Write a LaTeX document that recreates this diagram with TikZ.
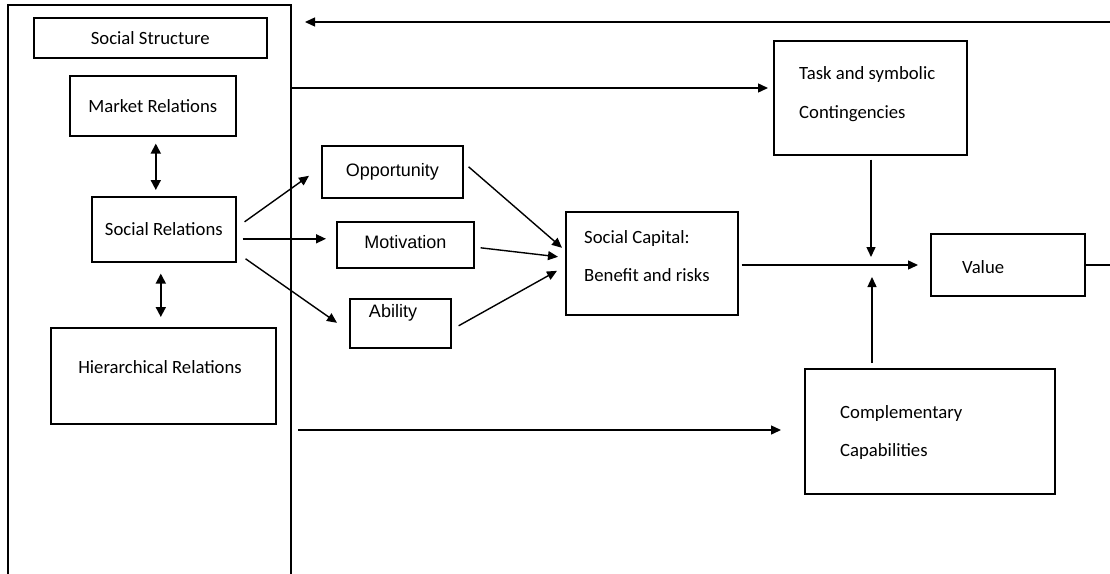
\documentclass[tikz,border=0pt]{standalone}
\usepackage{fontspec}
\setmainfont{Carlito}
\newfontfamily\arialfont{Liberation Sans}
\usetikzlibrary{arrows.meta,calc}

\tikzset{
  box/.style={draw=black, line width=1.6pt, rectangle, inner sep=0pt, anchor=north west,
              font=\fontsize{18.7}{22}\selectfont},
  boxa/.style={box, font=\arialfont\fontsize{18}{22}\selectfont},
  txt/.style={inner sep=0pt, anchor=base west, font=\fontsize{18.7}{22}\selectfont},
  txta/.style={txt, font=\arialfont\fontsize{18}{22}\selectfont},
  arr/.style={draw=black, line width=1.4pt, -{Triangle[length=10pt,width=9pt]}},
  dbl/.style={draw=black, line width=1.8pt, {Triangle[length=10pt,width=10pt]}-{Triangle[length=10pt,width=10pt]}},
  edge/.style={draw=black, line width=1.8pt}
}

\begin{document}
\begin{tikzpicture}[x=1pt, y=-1pt]
\useasboundingbox (0,0) rectangle (1110,573);
\clip (0,0) rectangle (1110,573);
\fill[white] (0,0) rectangle (1110,573);

% social structure frame (runs past the bottom edge)
\draw[edge] (8,590) |- (291,5) -- (291,590);

% boxes inside the frame
\node[box, minimum width=233pt, minimum height=40pt] (ss) at (33,17) {Social Structure};
\node[box, minimum width=166pt, minimum height=60pt] (mkt) at (69,75) {Market Relations};
\node[box, minimum width=144pt, minimum height=65pt] (soc) at (91,196) {Social Relations};
\node[box, minimum width=225pt, minimum height=96pt] (hier) at (50,327) {};
\node[txt, anchor=center] (hiert) at (160,367) {Hierarchical Relations};

% the three mechanisms
\node[boxa, minimum width=141pt, minimum height=52pt] (opp) at (321,145) {Opportunity};
\node[boxa, minimum width=137pt, minimum height=46pt, text depth=6pt] (mot) at (336,221) {Motivation};
\node[box, minimum width=101pt, minimum height=49pt] (abl) at (349,298) {};
\node[txta, anchor=center] (ablt) at (393,313) {Ability};

% social capital
\node[box, minimum width=172pt, minimum height=103pt] (sc) at (565,211) {};
\node[txt] (sc1) at (584,243) {Social Capital:};
\node[txt] (sc2) at (584,281) {Benefit and risks};

% contingencies
\node[box, minimum width=193pt, minimum height=114pt] (task) at (773,40) {};
\node[txt] (task1) at (799,79) {Task and symbolic};
\node[txt] (task2) at (799,118) {Contingencies};

% value
\node[box, minimum width=154pt, minimum height=62pt] (val) at (930,233) {};
\node[txt] (valt) at (962,273) {Value};

% complementary capabilities
\node[box, minimum width=250pt, minimum height=125pt] (comp) at (804,368) {};
\node[txt] (comp1) at (840,418) {Complementary};
\node[txt] (comp2) at (840,456) {Capabilities};

% free ends and junction points
\coordinate (s1) at (291,88);
\coordinate (s2) at (298,430);
\coordinate (mid) at (871,265);
\coordinate (rtop) at (1120,22);
\coordinate (ltop) at (305,22);

% links within the frame
\draw[dbl] ([xshift=3pt,yshift=-7pt]mkt.south) -- ([xshift=-8pt,yshift=6pt]soc.north);
\draw[dbl] ([xshift=-3pt,yshift=-11pt]soc.south) -- ([xshift=-2.5pt,yshift=10pt]hier.north);

% social relations to the mechanisms
\draw[arr] ([xshift=8pt,yshift=7.5pt]soc.east) -- ([xshift=-12pt,yshift=-4pt]opp.west);
\draw[arr] ([xshift=6pt,yshift=-9.5pt]soc.east) -- ([xshift=-10pt,yshift=-9.5pt]soc.east -| mot.west);
\draw[arr] ([xshift=9pt,yshift=-29.5pt]soc.east) -- ([xshift=-12pt,yshift=0.5pt]abl.west);

% mechanisms to social capital
\draw[arr] ([xshift=5pt,yshift=5pt]opp.east) -- ([xshift=-3pt,yshift=15.5pt]sc.west);
\draw[arr] ([xshift=6pt,yshift=-3pt]mot.east) -- ([xshift=-7pt,yshift=6.5pt]sc.west);
\draw[arr] ([xshift=7pt,yshift=-2.5pt]abl.east) -- ([xshift=-8pt,yshift=-7.5pt]sc.west);

% social capital to value, with the two moderators
\draw[arr] ($(sc.east |- mid)+(3,0)$) -- ($(val.west |- mid)+(-12,0)$);
\draw[arr] ($(task.south -| mid)+(0,4)$) -- ($(mid)+(0,-8)$);
\draw[arr] ($(comp.north -| mid)+(1,-5)$) -- ($(mid)+(1,12)$);

% frame to the moderators
\draw[arr] (s1) -- ($(s1 -| task.west)+(-5,0)$);
\draw[arr] (s2) -- ($(s2 -| comp.west)+(-23,0)$);

% feedback from value to the frame
\draw[arr] (val.east) -| (rtop) -- (ltop);
\end{tikzpicture}
\end{document}
